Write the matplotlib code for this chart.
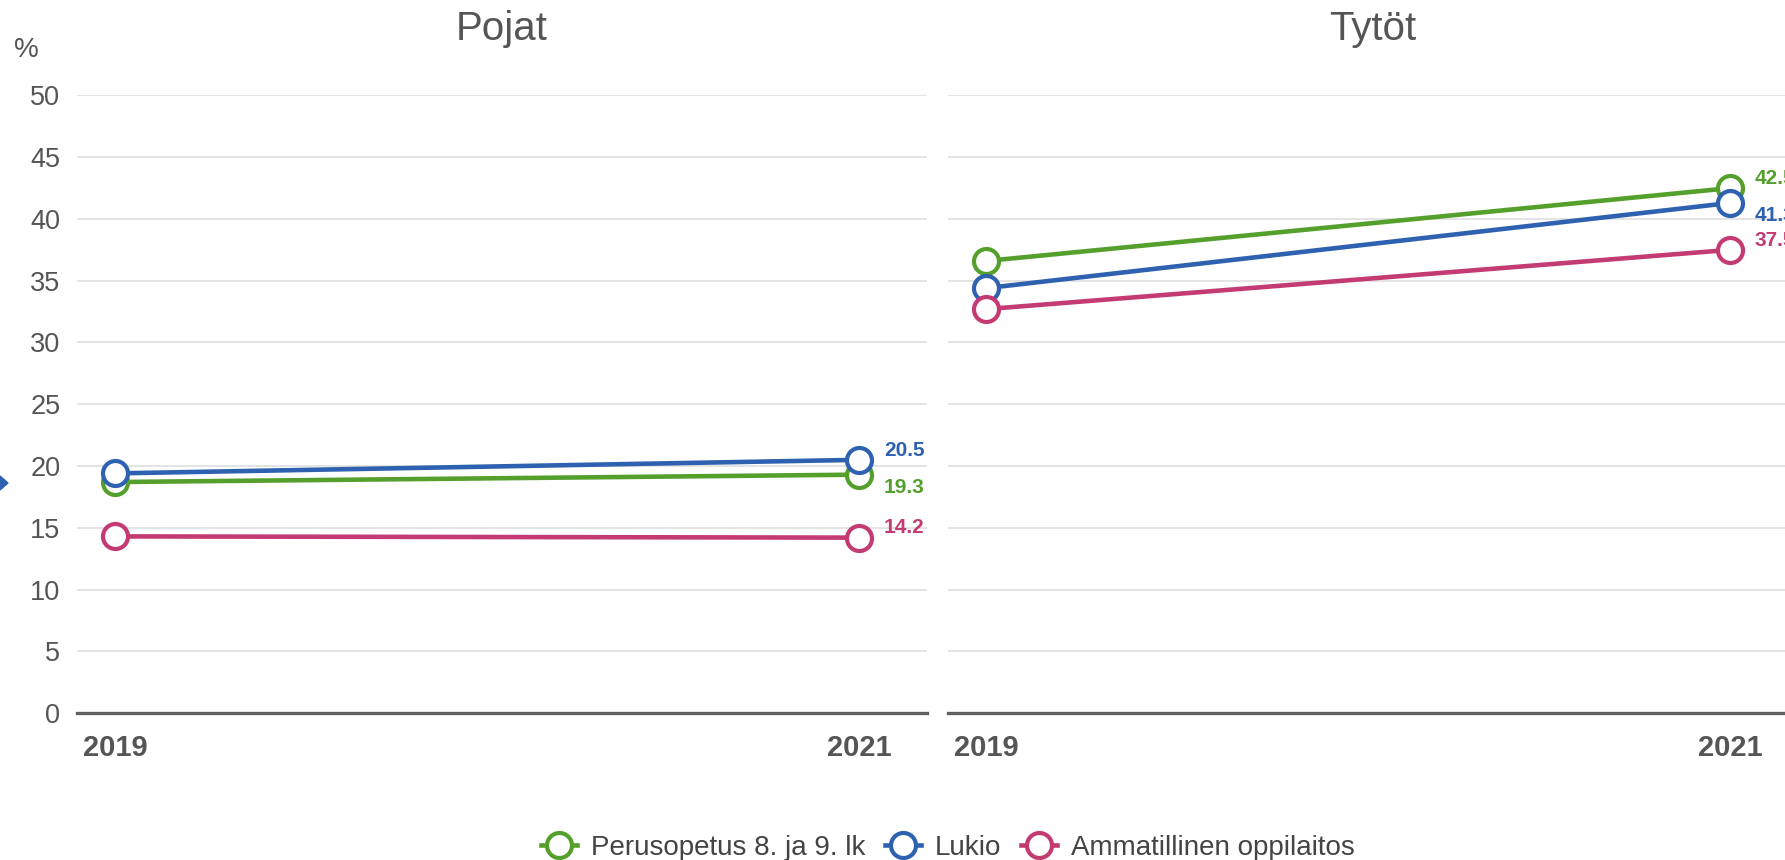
import matplotlib
matplotlib.use("Agg")
import matplotlib.pyplot as plt
from matplotlib.lines import Line2D
from matplotlib.patches import Polygon

plt.rcParams["font.family"] = ["Liberation Sans", "DejaVu Sans"]

years = [2019, 2021]
panels = ["Pojat", "Tytöt"]
series_names = ["Perusopetus 8. ja 9. lk", "Lukio", "Ammatillinen oppilaitos"]
colors = ["#55a02d", "#2e62b0", "#c43b73"]

# values per panel: [perusopetus, lukio, ammatillinen]
pojat = [[18.7, 19.3], [19.4, 20.5], [14.3, 14.2]]
tytot = [[36.6, 42.5], [34.4, 41.3], [32.7, 37.5]]
panel_values = [pojat, tytot]

# label vertical offsets (points) for the 2021 value labels
label_dy = [[-9, 7, 7], [7, -9, 7]]

W, H = 1785, 860
fig = plt.figure(figsize=(W / 100, H / 100), dpi=100)

grid_col = "#dfdfdf"
axis_col = "#606060"
text_col = "#555555"
lw, ms, mew = 3.3, 18, 3.0

def px_axes(x0, x1, ytop, ybot):
    return fig.add_axes([x0 / W, (H - ybot) / H, (x1 - x0) / W, (ybot - ytop) / H])

axes = [px_axes(77, 927, 95.5, 713), px_axes(948, 1798, 95.5, 713)]

for i, ax in enumerate(axes):
    vals = panel_values[i]
    for j, s in enumerate(vals):
        ax.plot(years, s, color=colors[j], lw=lw, marker="o", ms=ms,
                mfc="white", mec=colors[j], mew=mew, zorder=3, clip_on=False)
        ax.annotate(f"{s[-1]:.1f}", (years[-1], s[-1]), xytext=(18, label_dy[i][j]),
                    textcoords="offset points", ha="left", va="center",
                    color=colors[j], fontsize=15, fontweight="bold",
                    annotation_clip=False)
    ax.set_xlim(2018.898, 2021.183)
    ax.set_ylim(0, 50)
    ax.set_yticks(range(0, 51, 5))
    ax.set_xticks(years)
    ax.set_xticklabels([str(y) for y in years], fontweight="bold", fontsize=21, color=text_col)
    ax.grid(axis="y", color=grid_col, lw=1.2)
    ax.set_axisbelow(True)
    for side in ["top", "right", "left"]:
        ax.spines[side].set_visible(False)
    ax.spines["bottom"].set_color(axis_col)
    ax.spines["bottom"].set_linewidth(2.4)
    ax.tick_params(axis="x", length=0, pad=15)
    ax.tick_params(axis="y", length=0, pad=12, labelsize=19.5, labelcolor=text_col)
    ax.set_title(panels[i], fontsize=29, color=text_col, pad=40)
    if i > 0:
        ax.tick_params(axis="y", labelleft=False)

fig.text(26.5 / W, 1 - 50 / H, "%", fontsize=20, color=text_col, ha="center", va="center")

# small tooltip arrow at the left edge
fig.patches.append(Polygon([(0, 1 - 476 / H), (8 / W, 1 - 483 / H), (0, 1 - 490 / H)],
                           closed=True, transform=fig.transFigure, color="#2e62b0"))

handles = [Line2D([0], [0], color=c, lw=lw, marker="o", ms=ms, mfc="white", mec=c, mew=mew)
           for c in colors]
fig.legend(handles, series_names, loc="center", bbox_to_anchor=(0.531, 0.014), ncol=3,
           frameon=False, fontsize=20, handlelength=1.3, handletextpad=0.5,
           columnspacing=0.7, labelcolor="#444444")

fig.savefig("out.png", dpi=100)
